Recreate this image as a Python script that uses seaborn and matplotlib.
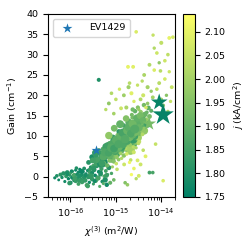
import numpy as np
import pandas as pd
import matplotlib
matplotlib.use("Agg")
import matplotlib.pyplot as plt
import seaborn as sns

plt.rcParams['font.family'] = ['DejaVu Sans']
plt.rcParams['font.size'] = 6.8

UNIT = 1e-15  # chi3 values below are in units of 1e-15 m^2/W

# --- cluster A: low-gain, low-chi points ---
a_chi = [0.045,0.05,0.055,0.06,0.065,0.07,0.075,0.08,0.085,0.09,
         0.095,0.10,0.10,0.11,0.11,0.12,0.12,0.13,0.13,0.14,
         0.14,0.15,0.15,0.16,0.16,0.17,0.18,0.18,0.19,0.20,
         0.20,0.21,0.22,0.23,0.24,0.25,0.26,0.27,0.28,0.30,
         0.30,0.32,0.33,0.35,0.36,0.38,0.40,0.42,0.44,0.46,
         0.48,0.50,0.52,0.55,0.58,0.60,0.63,0.66,0.70,0.75,
         0.80,0.085,0.095,0.105,0.125,0.135,0.155,0.175,0.195,0.215,
         0.24,0.27,0.29,0.34,0.37,0.41,0.47,0.53,0.62,0.90]
a_gain = [-0.3,0.2,-0.8,0.5,-0.2,0.8,-1.2,0.1,1.0,-0.5,
          0.4,-1.5,0.9,-0.2,1.3,-0.9,0.3,1.6,-1.1,0.6,
          -0.4,1.1,-1.8,0.2,1.8,-0.7,0.5,-1.3,1.2,-0.1,
          2.0,-0.9,0.7,-2.1,1.5,0.0,-1.4,1.0,2.3,-0.6,
          0.9,-1.8,1.7,0.3,-1.0,2.5,-0.3,1.2,-2.4,0.6,
          1.9,-1.2,2.8,0.1,-0.8,1.4,-2.0,0.5,2.2,-1.5,
          0.8,0.6,-1.6,1.4,-0.5,2.1,-1.0,1.3,-0.2,0.4,
          -2.3,1.8,0.2,-1.1,2.6,-0.4,1.0,-1.7,0.3,-0.8]
a_j = [1.78,1.80,1.77,1.82,1.79,1.81,1.78,1.83,1.80,1.77,
       1.82,1.79,1.84,1.78,1.81,1.80,1.86,1.77,1.83,1.79,
       1.81,1.78,1.85,1.80,1.76,1.82,1.79,1.84,1.78,1.81,
       1.80,1.83,1.77,1.86,1.79,1.82,1.78,1.85,1.80,1.83,
       1.79,1.84,1.81,1.77,1.86,1.80,1.83,1.78,1.88,1.81,
       1.84,1.79,1.82,1.87,1.80,1.85,1.78,1.83,1.81,1.90,
       1.86,1.79,1.82,1.78,1.84,1.80,1.83,1.77,1.81,1.79,
       1.85,1.80,1.83,1.78,1.82,1.86,1.80,1.88,1.84,1.92]
a_size = [6,8,5,10,7,12,6,9,14,7,
          8,11,6,13,7,9,15,6,10,8,
          12,7,9,16,6,11,8,13,7,10,
          9,14,6,12,8,17,7,11,9,13,
          10,6,15,8,12,7,16,9,6,14,
          11,8,13,7,18,9,12,6,15,10,
          7,9,12,6,14,8,11,16,7,10,
          13,8,15,10,7,12,9,6,14,8]

# --- cluster B: main rising band ---
b_chi = [0.25,0.27,0.30,0.32,0.35,0.37,0.40,0.42,0.45,0.48,
         0.50,0.52,0.55,0.58,0.60,0.62,0.65,0.68,0.70,0.72,
         0.75,0.78,0.80,0.82,0.85,0.88,0.90,0.92,0.95,0.98,
         1.00,1.02,1.05,1.08,1.10,1.12,1.15,1.18,1.20,1.25,
         1.30,1.35,1.40,1.45,1.50,1.55,1.60,1.65,1.70,1.75,
         1.80,1.85,1.90,1.95,2.00,2.05,2.10,2.20,2.30,2.40,
         2.50,2.60,2.70,2.80,2.90,3.00,3.10,3.20,3.40,3.60,
         3.80,4.00,4.20,4.50,4.80,5.00,5.50,6.00,0.33,0.44,
         0.55,0.66,0.77,0.88,0.99,1.10,1.21,1.32,1.43,1.54,
         1.65,1.76,1.87,1.98,2.09,2.20,2.31,2.42,2.53,2.64,
         0.58,0.72,0.86,1.04,1.16,1.28,1.48,1.62,1.84,2.06,
         2.25,2.45,2.65,2.85,3.05,3.30,3.55,3.85,4.15,4.60,
         0.46,0.63,0.81,0.97,1.13,1.37,1.58,1.79,2.15,2.55,
         2.95,3.35,3.75,4.35,5.20,0.70,0.92,1.24,1.68,2.35,
         1.02,1.34,1.73,2.12,2.48,2.78,3.15,0.84,1.06,1.52]
b_gain = [3.5,1.8,4.8,2.6,5.9,3.2,4.1,6.5,2.9,5.2,
          4.3,6.8,3.6,5.5,7.4,4.9,2.8,6.1,5.3,8.2,
          5.6,7.9,4.4,6.6,8.8,5.9,3.7,7.2,6.3,9.4,
          6.8,8.9,5.5,7.6,10.2,6.1,4.2,8.3,7.1,9.8,
          8.6,6.4,10.7,7.9,5.2,9.5,11.6,8.1,6.9,10.3,
          9.2,11.8,7.5,10.4,8.6,12.6,6.4,9.9,11.2,8.3,
          10.6,12.9,8.8,11.5,14.1,9.6,12.3,10.9,13.4,11.8,
          12.4,14.7,11.3,13.6,15.8,12.9,14.8,16.2,2.2,3.1,
          3.4,7.6,4.9,8.1,5.3,9.1,6.2,10.4,7.3,9.6,
          12.3,7.2,10.9,13.8,6.8,11.4,14.5,9.1,12.8,10.2,
          6.2,3.9,9.6,4.8,11.1,5.7,12.6,6.9,13.3,7.8,
          15.2,7.3,16.1,9.4,17.0,8.6,15.9,10.4,17.6,14.0,
          5.8,2.7,5.1,6.0,8.4,7.2,9.8,8.7,10.6,9.9,
          12.1,13.1,14.6,15.3,16.9,10.1,11.9,12.9,14.3,16.5,
          3.2,4.5,5.6,4.1,6.0,7.1,8.2,2.4,1.8,3.0]
b_j = [1.81,1.83,1.79,1.86,1.82,1.85,1.80,1.89,1.83,1.84,
       1.82,1.88,1.79,1.86,1.84,1.81,1.92,1.85,1.80,1.89,
       1.85,1.82,1.93,1.83,1.87,1.80,1.95,1.84,1.86,1.91,
       1.83,1.86,1.90,1.81,1.94,1.84,1.97,1.87,1.82,1.88,
       1.85,1.89,1.82,1.92,1.96,1.84,1.88,1.81,1.93,1.86,
       1.87,1.83,1.94,1.85,1.89,1.82,1.98,1.86,1.91,1.88,
       1.84,1.90,1.95,1.86,1.88,1.99,1.83,1.92,1.87,1.94,
       1.89,1.86,1.97,1.88,1.91,1.85,1.93,1.89,1.82,1.80,
       1.92,1.85,1.88,1.83,1.95,1.81,1.90,1.84,1.87,1.86,
       1.91,1.96,1.85,1.89,2.00,1.87,1.93,1.83,1.90,1.95,
       1.88,1.95,1.84,1.97,1.82,1.99,1.86,2.02,1.89,1.98,
       1.93,2.03,1.90,2.01,1.95,2.04,1.97,2.02,1.93,1.98,
       1.84,1.91,1.94,1.86,1.90,1.84,1.92,1.87,1.89,1.85,
       1.88,1.94,1.86,1.91,1.89,1.97,1.93,1.90,1.95,1.92,
       2.05,2.02,2.07,2.04,2.06,2.01,2.03,1.99,2.04,2.06]
b_size = [14,9,20,12,24,16,30,11,22,18,
          26,13,34,19,28,15,10,36,22,12,
          30,17,40,25,14,32,11,44,21,16,
          38,20,27,45,13,33,9,40,24,15,
          42,18,29,36,12,48,16,31,26,40,
          22,37,14,46,30,11,44,25,19,50,
          35,16,41,27,13,47,20,33,24,15,
          28,12,38,20,9,30,14,10,12,16,
          8,32,14,26,10,38,22,16,34,20,
          12,36,18,9,44,24,10,39,15,28,
          18,9,22,11,14,8,12,10,16,9,
          10,8,12,9,11,8,10,9,12,14,
          16,8,11,20,14,28,18,32,24,36,
          30,26,20,18,14,34,28,38,26,12,
          8,7,9,8,10,7,9,6,8,9]

# --- cluster E: dense core of the band ---
e_chi = [0.38,0.53,0.61,0.74,0.83,0.94,1.07,1.19,1.31,1.44,
         1.57,1.71,1.89,2.03,2.18,2.37,2.58,2.76,3.02,3.25,
         0.49,0.57,0.69,0.79,0.91,1.03,1.14,1.27,1.41,1.59,
         1.77,1.94,2.13,2.33,2.61,2.89,3.45,3.95,0.31,0.36]
e_gain = [4.2,4.9,6.4,5.2,7.9,6.6,8.6,7.3,9.3,8.0,
          10.1,8.8,10.9,9.7,11.8,10.3,12.6,11.0,13.2,12.0,
          3.3,6.0,5.8,7.1,6.9,9.0,8.0,10.0,10.8,9.2,
          11.3,12.1,10.6,13.0,11.7,14.4,15.0,13.8,4.0,5.5]
e_j = [1.86,1.88,1.85,1.90,1.87,1.89,1.86,1.91,1.88,1.87,
       1.90,1.86,1.89,1.92,1.87,1.90,1.88,1.93,1.89,1.91,
       1.84,1.87,1.86,1.88,1.85,1.89,1.87,1.90,1.86,1.88,
       1.91,1.89,1.87,1.92,1.88,1.90,1.93,1.91,1.85,1.83]
e_size = [30,36,42,28,46,34,40,32,48,38,
          44,30,50,36,42,34,46,38,40,32,
          26,38,32,44,36,48,40,34,42,46,
          38,44,36,40,48,34,30,28,22,26]

# --- cluster C: scattered high-gain points ---
c_chi = [2.8,6.6,15,18,10,7.0,8.0,2.4,0.42,9.6,
         15,4.2,7.0,5.0,3.0,2.0,1.5,1.2,0.8,0.7,
         1.0,4.0,6.0,9.0,12,13,17,10,1.7,2.5,
         3.5,5.0,0.6,0.9,1.3,2.2,3.2,8.0,11,14,
         16,6.5,4.6,1.9,3.8,12,5.5,9.0,14,1.85]
c_gain = [35.6,34.8,34.1,34.3,32.9,31.6,30.4,27.0,23.8,26.0,
          25.8,25.0,26.2,22.0,22.5,23.0,20.0,21.5,20.5,18.0,
          19.0,20.0,21.0,23.0,24.0,20.0,22.0,19.0,17.0,18.5,
          19.0,18.0,16.5,15.5,16.8,20.5,16.5,21.5,17.5,16.0,
          18.5,19.5,17.0,22.0,23.5,28.5,27.5,28.0,30.0,27.0]
c_j = [2.08,2.05,2.10,2.07,2.04,2.02,2.06,2.09,1.80,2.03,
       2.06,2.01,2.08,2.00,2.05,2.03,1.99,2.07,2.02,1.97,
       2.04,2.06,1.98,2.03,2.07,1.96,2.05,1.99,2.01,2.08,
       2.02,1.97,2.03,2.00,2.06,2.09,1.98,2.04,1.95,2.01,
       2.05,2.00,2.07,1.99,2.03,2.06,2.02,1.97,2.04,2.10]
c_size = [8,7,9,8,10,7,8,9,10,8,
          7,9,8,10,7,8,9,7,8,9,
          8,10,7,9,8,7,9,8,10,7,
          9,8,7,8,9,10,7,8,9,8,
          7,9,8,10,7,8,9,7,8,9]

# --- cluster D: low-gain outliers at high chi ---
d_chi = [2.5,3.0,1.8,2.2,3.5,4.0,5.5,11,6.5,2.8,4.5,1.6,2.0,7.5,3.2]
d_gain = [2.0,4.0,-2.0,0.5,3.0,6.5,1.0,-1.0,1.0,-0.5,5.0,-1.5,3.5,8.0,0.2]
d_j = [2.10,2.08,1.98,2.12,2.06,2.04,1.85,2.08,1.86,2.03,2.09,1.95,2.11,2.05,2.07]
d_size = [8,9,8,7,9,8,9,8,8,7,9,8,7,8,9]

# --- large star markers ---
star_chi = [5.4, 9.0, 11.0]
star_gain = [13.0, 18.3, 15.2]
star_j = [1.93, 1.76, 1.76]
star_size = [110, 160, 260]

# --- highlighted device ---
ev_label = "EV1429"
ev_chi = [0.36]
ev_gain = [6.5]

j_min, j_max = 1.75, 2.138
cb_ticks = [1.75, 1.80, 1.85, 1.90, 1.95, 2.00, 2.05, 2.10]
y_ticks = [-5, 0, 5, 10, 15, 20, 25, 30, 35, 40]
x_ticks = [1e-16, 1e-15, 1e-14]

pts = pd.DataFrame({
    "chi": np.array(a_chi + b_chi + e_chi + c_chi + d_chi) * UNIT,
    "gain": a_gain + b_gain + e_gain + c_gain + d_gain,
    "j": a_j + b_j + e_j + c_j + d_j,
    "size": a_size + b_size + e_size + c_size + d_size,
})
stars = pd.DataFrame({"chi": np.array(star_chi) * UNIT, "gain": star_gain,
                      "j": star_j, "size": star_size})
ev = pd.DataFrame({"chi": np.array(ev_chi) * UNIT, "gain": ev_gain})

fig = plt.figure(figsize=(2.45, 2.45), dpi=100)
ax = fig.add_axes([0.196, 0.196, 0.518, 0.747])
cax = fig.add_axes([0.747, 0.196, 0.049, 0.747])

cmap = "summer"
norm = matplotlib.colors.Normalize(j_min, j_max)
smin, smax = min(pts["size"]), max(pts["size"])
sns.scatterplot(data=pts, x="chi", y="gain", hue="j", palette=cmap, hue_norm=norm,
                size="size", sizes=(smin * 0.85, smax * 0.85), size_norm=(smin, smax),
                linewidth=0, legend=False, ax=ax)
sns.scatterplot(data=stars, x="chi", y="gain", hue="j", palette=cmap, hue_norm=norm,
                size="size", sizes=(min(star_size), max(star_size)),
                size_norm=(min(star_size), max(star_size)),
                marker="*", linewidth=0, legend=False, ax=ax)
sns.scatterplot(data=ev, x="chi", y="gain", color="tab:blue", marker="*", s=55,
                linewidth=0, label=ev_label, ax=ax)

ax.set_xscale("log")
ax.set_xlim(3.2e-17, 2.0e-14)
ax.set_xticks(x_ticks)
ax.set_ylim(-5, 40)
ax.set_yticks(y_ticks)
ax.set_xlabel(r"$\chi^{(3)}$ (m$^2$/W)")
ax.set_ylabel(r"Gain (cm$^{-1}$)")
ax.legend(loc="upper left", fontsize=6.8, handletextpad=1.3, borderpad=0.5)

sm = matplotlib.cm.ScalarMappable(norm=norm, cmap=cmap)
cb = fig.colorbar(sm, cax=cax, ticks=cb_ticks)
cb.set_label(r"$j$ (kA/cm$^2$)")
cb.ax.tick_params(labelsize=6.8)
ax.tick_params(labelsize=6.8)

fig.savefig("out.png", dpi=100)
